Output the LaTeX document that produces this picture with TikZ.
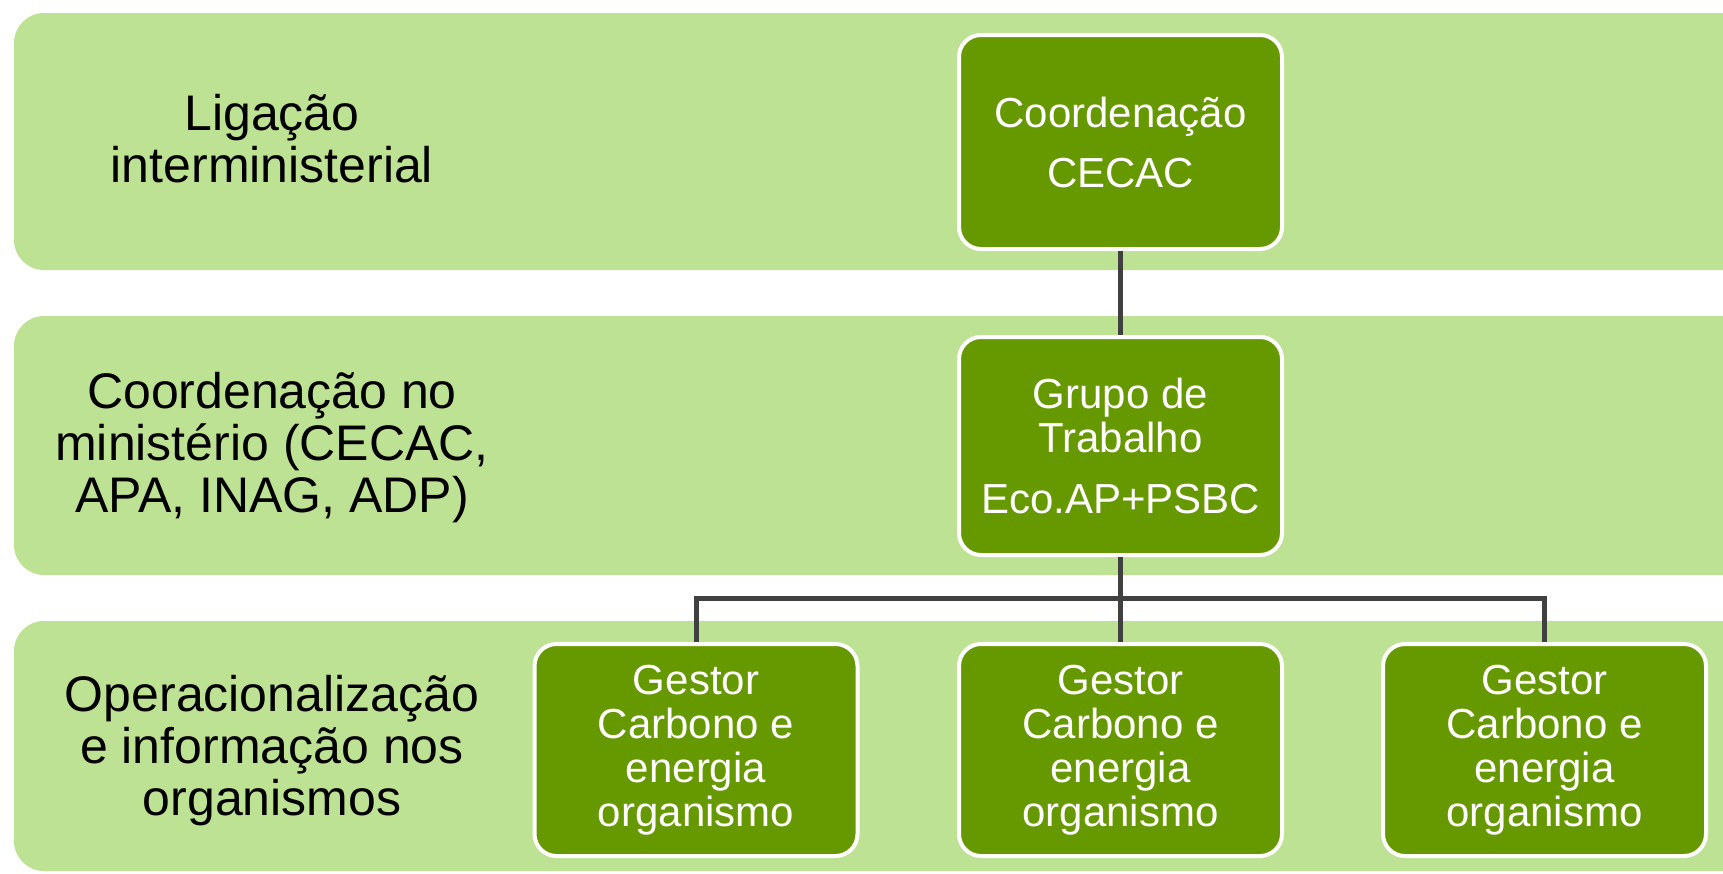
\documentclass[tikz,border=0pt]{standalone}
\usepackage{fontspec}
\setmainfont{Liberation Sans}
\definecolor{bandgreen}{HTML}{BDE293}
\definecolor{boxgreen}{HTML}{669900}
\definecolor{conngray}{HTML}{404040}
\begin{document}
\begin{tikzpicture}[x=1pt,y=-1pt,
  band/.style={fill=bandgreen, rounded corners=30pt},
  lbl/.style={align=center, font=\fontsize{50}{52}\selectfont, text=black, inner sep=0pt},
  gbox/.style={draw=white, line width=4pt, fill=boxgreen, rounded corners=22pt,
    minimum width=323pt, text=white, align=center,
    font=\fontsize{42}{44}\selectfont, inner sep=0pt},
  conn/.style={draw=conngray, line width=5pt}]
\useasboundingbox (0,0) rectangle (1723,873);
\clip (0,0) rectangle (1723,873);
% bands
\fill[band] (14,13) rectangle (1760,270);
\fill[band] (14,316) rectangle (1760,575);
\fill[band] (14,621) rectangle (1760,871);
% left labels
\node[lbl] (l1) at (272,139) {Ligação\\interministerial};
\node[lbl] (l2) at (272,448) {Coordenação no\\ministério (CECAC,\\APA, INAG, ADP)};
\node[lbl] (l3) at (272,751) {Operacionalização\\e informação nos\\organismos};
% boxes
\node[gbox, minimum height=214pt] (top) at (1120.5,142) {Coordenação\\[16pt]CECAC};
\node[gbox, minimum height=218pt] (mid) at (1120.5,446) {Grupo de\\Trabalho\\[17pt]Eco.AP+PSBC};
\node[gbox, minimum height=212pt] (g1) at (696,750) {Gestor\\Carbono e\\energia\\organismo};
\node[gbox, minimum height=212pt] (g2) at (1120.5,750) {Gestor\\Carbono e\\energia\\organismo};
\node[gbox, minimum height=212pt] (g3) at (1544.5,750) {Gestor\\Carbono e\\energia\\organismo};
% connectors
\coordinate (bar) at (1120.5,598);
\draw[conn] (top) -- (mid);
\draw[conn] (mid) -- (g2);
\draw[conn] (g1.north) -- (g1.north |- bar) -- (g3.north |- bar) -- (g3.north);
\end{tikzpicture}
\end{document}
